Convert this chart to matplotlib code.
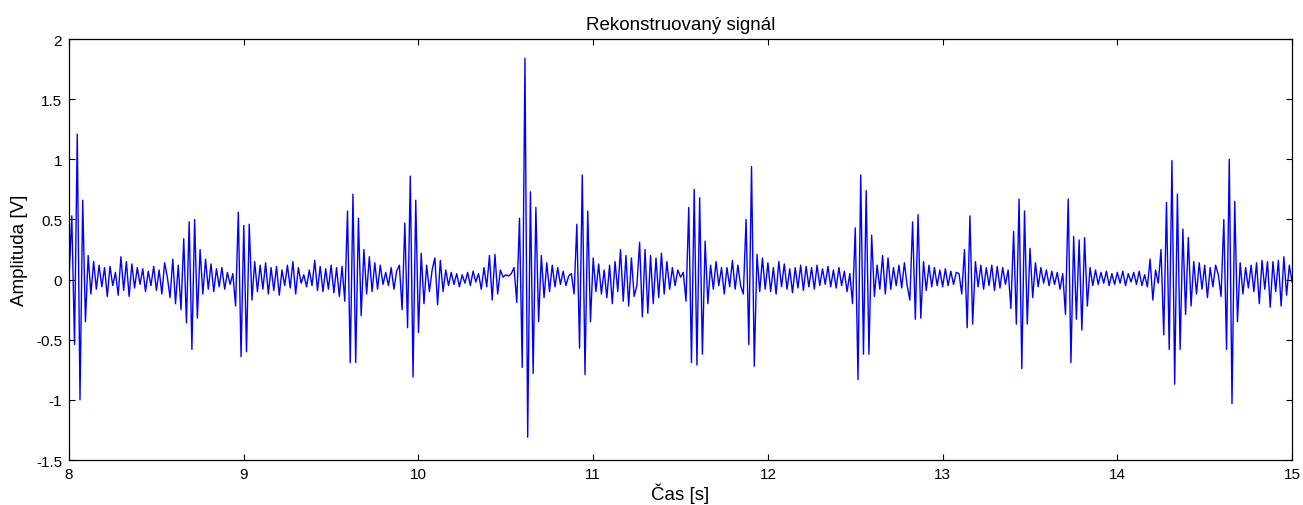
import matplotlib
matplotlib.use("Agg")
import matplotlib.pyplot as plt
import numpy as np

# signal, one value every 1/64 s, one list per second
sig_08 = [0.02, 0.53, -0.54, 1.21, -1.0, 0.66, -0.35, 0.2,
          -0.12, 0.15, -0.08, 0.12, -0.06, 0.1, -0.14, 0.11,
          -0.05, 0.06, -0.13, 0.19, -0.09, 0.15, -0.14, 0.13,
          -0.07, 0.1, -0.04, 0.09, -0.1, 0.07, -0.05, 0.11,
          -0.09, 0.08, -0.12, 0.14, 0.02, -0.15, 0.17, -0.2,
          0.12, -0.25, 0.34, -0.36, 0.48, -0.58, 0.5, -0.32,
          0.25, -0.12, 0.17, -0.08, 0.13, -0.1, 0.09, -0.06,
          0.1, -0.08, 0.06, -0.04, 0.05, -0.22, 0.56, -0.64]
sig_09 = [0.45, -0.6, 0.46, -0.17, 0.15, -0.1, 0.12, -0.08,
          0.14, -0.12, 0.1, -0.09, 0.11, -0.13, 0.08, -0.05,
          0.12, -0.07, 0.15, -0.12, 0.1, -0.03, 0.04, -0.06,
          0.08, -0.05, 0.16, -0.09, 0.11, -0.1, 0.09, -0.08,
          0.12, -0.11, 0.1, -0.14, 0.11, -0.18, 0.57, -0.69,
          0.71, -0.69, 0.51, -0.3, 0.25, -0.12, 0.19, -0.1,
          0.14, -0.08, 0.12, -0.04, 0.06, -0.05, 0.1, -0.08,
          0.07, 0.12, -0.25, 0.47, -0.4, 0.86, -0.81, 0.66]
sig_10 = [-0.44, 0.22, -0.2, 0.12, -0.1, 0.08, 0.18, -0.21,
          0.16, -0.1, 0.08, -0.05, 0.06, -0.04, 0.05, -0.06,
          0.04, -0.03, 0.06, -0.05, 0.07, -0.02, 0.05, -0.08,
          0.1, -0.06, 0.2, -0.17, 0.21, -0.12, 0.08, 0.02,
          0.04, 0.03, 0.05, 0.1, -0.19, 0.51, -0.73, 1.84,
          -1.31, 0.73, -0.78, 0.6, -0.35, 0.2, -0.15, 0.14,
          -0.1, 0.12, -0.06, 0.1, -0.04, 0.07, -0.05, 0.03,
          0.05, -0.12, 0.46, -0.57, 0.87, -0.79, 0.57, -0.35]
sig_11 = [0.18, -0.1, 0.13, -0.12, 0.08, -0.15, 0.12, -0.2,
          0.15, -0.1, 0.25, -0.18, 0.2, -0.22, 0.18, -0.14,
          -0.05, 0.31, -0.31, 0.25, -0.28, 0.2, -0.2, 0.18,
          -0.15, 0.22, -0.12, 0.15, -0.08, 0.1, -0.05, 0.08,
          0.02, 0.06, -0.18, 0.6, -0.69, 0.75, -0.71, 0.68,
          -0.62, 0.32, -0.2, 0.12, -0.08, 0.15, -0.05, 0.1,
          -0.12, 0.1, -0.06, 0.16, -0.08, 0.12, -0.05, -0.12,
          0.5, -0.54, 0.94, -0.72, 0.21, -0.1, 0.18, -0.08]
sig_12 = [0.14, -0.1, 0.1, -0.12, 0.15, -0.06, 0.13, -0.08,
          0.09, -0.11, 0.1, -0.07, 0.12, -0.09, 0.11, -0.06,
          0.1, -0.08, 0.12, -0.05, 0.09, -0.04, 0.11, -0.06,
          0.08, -0.07, 0.1, -0.05, 0.07, -0.1, 0.05, -0.2,
          0.43, -0.83, 0.87, -0.62, 0.74, -0.62, 0.37, -0.14,
          0.12, -0.08, 0.2, -0.12, 0.18, -0.08, 0.1, -0.05,
          0.12, -0.07, 0.14, -0.05, -0.17, 0.48, -0.33, 0.54,
          -0.32, 0.15, -0.09, 0.12, -0.06, 0.1, -0.05, 0.08]
sig_13 = [-0.06, 0.09, -0.05, 0.07, -0.04, 0.06, 0.05, -0.12,
          0.25, -0.4, 0.53, -0.37, 0.15, -0.06, 0.12, -0.08,
          0.1, -0.05, 0.12, -0.09, 0.11, -0.07, 0.1, -0.04,
          0.08, -0.24, 0.4, -0.37, 0.67, -0.74, 0.57, -0.37,
          0.26, -0.15, 0.14, -0.06, 0.1, -0.03, 0.08, -0.05,
          0.07, -0.04, 0.06, -0.08, 0.05, -0.29, 0.67, -0.69,
          0.36, -0.33, 0.33, -0.42, 0.35, -0.22, 0.1, -0.05,
          0.08, -0.04, 0.06, -0.03, 0.07, -0.05, 0.05, -0.04]
sig_14 = [0.06, -0.03, 0.07, -0.05, 0.05, -0.02, 0.06, -0.04,
          0.07, -0.05, 0.04, -0.06, 0.17, -0.17, 0.08, -0.03,
          0.25, -0.46, 0.64, -0.58, 0.99, -0.87, 0.71, -0.58,
          0.42, -0.29, 0.35, -0.22, 0.15, -0.12, 0.14, -0.08,
          0.12, -0.15, 0.1, -0.06, 0.12, 0.04, -0.14, 0.5,
          -0.58, 1.0, -1.03, 0.65, -0.35, 0.14, -0.12, 0.1,
          -0.07, 0.12, -0.1, 0.14, -0.2, 0.16, -0.08, 0.15,
          -0.23, 0.15, -0.1, 0.16, -0.22, 0.19, -0.13, 0.12,
          -0.02]

t_start = 8.0
fs = 64
x_ticks = [8, 9, 10, 11, 12, 13, 14, 15]
y_ticks = [-1.5, -1, -0.5, 0, 0.5, 1, 1.5, 2]
y_tick_labels = ["-1.5", "-1", "-0.5", "0", "0.5", "1", "1.5", "2"]

signal = np.concatenate([sig_08, sig_09, sig_10, sig_11, sig_12, sig_13, sig_14])
t = t_start + np.arange(len(signal)) / fs

plt.rcParams['font.family'] = ['Liberation Sans', 'DejaVu Sans']

fig = plt.figure(figsize=(13.03, 5.06), dpi=100)
ax = fig.add_axes([0.053, 0.0889, 0.9386, 0.832])
ax.plot(t, signal, color=(0, 0, 1), linewidth=1.0)

ax.set_xlim(8, 15)
ax.set_ylim(-1.5, 2)
ax.set_xticks(x_ticks)
ax.set_xticklabels([str(v) for v in x_ticks])
ax.set_yticks(y_ticks)
ax.set_yticklabels(y_tick_labels)
ax.tick_params(direction='in', top=True, right=True, length=4, width=0.8,
               labelsize=11, pad=5)
for s in ax.spines.values():
    s.set_linewidth(0.9)

ax.set_title('Rekonstruovaný signál', fontsize=13.5, pad=7)
ax.set_xlabel('Čas [s]', fontsize=13.5, labelpad=1)
ax.set_ylabel('Amplituda [V]', fontsize=13.5, labelpad=6)

fig.savefig('out.png', dpi=100)
